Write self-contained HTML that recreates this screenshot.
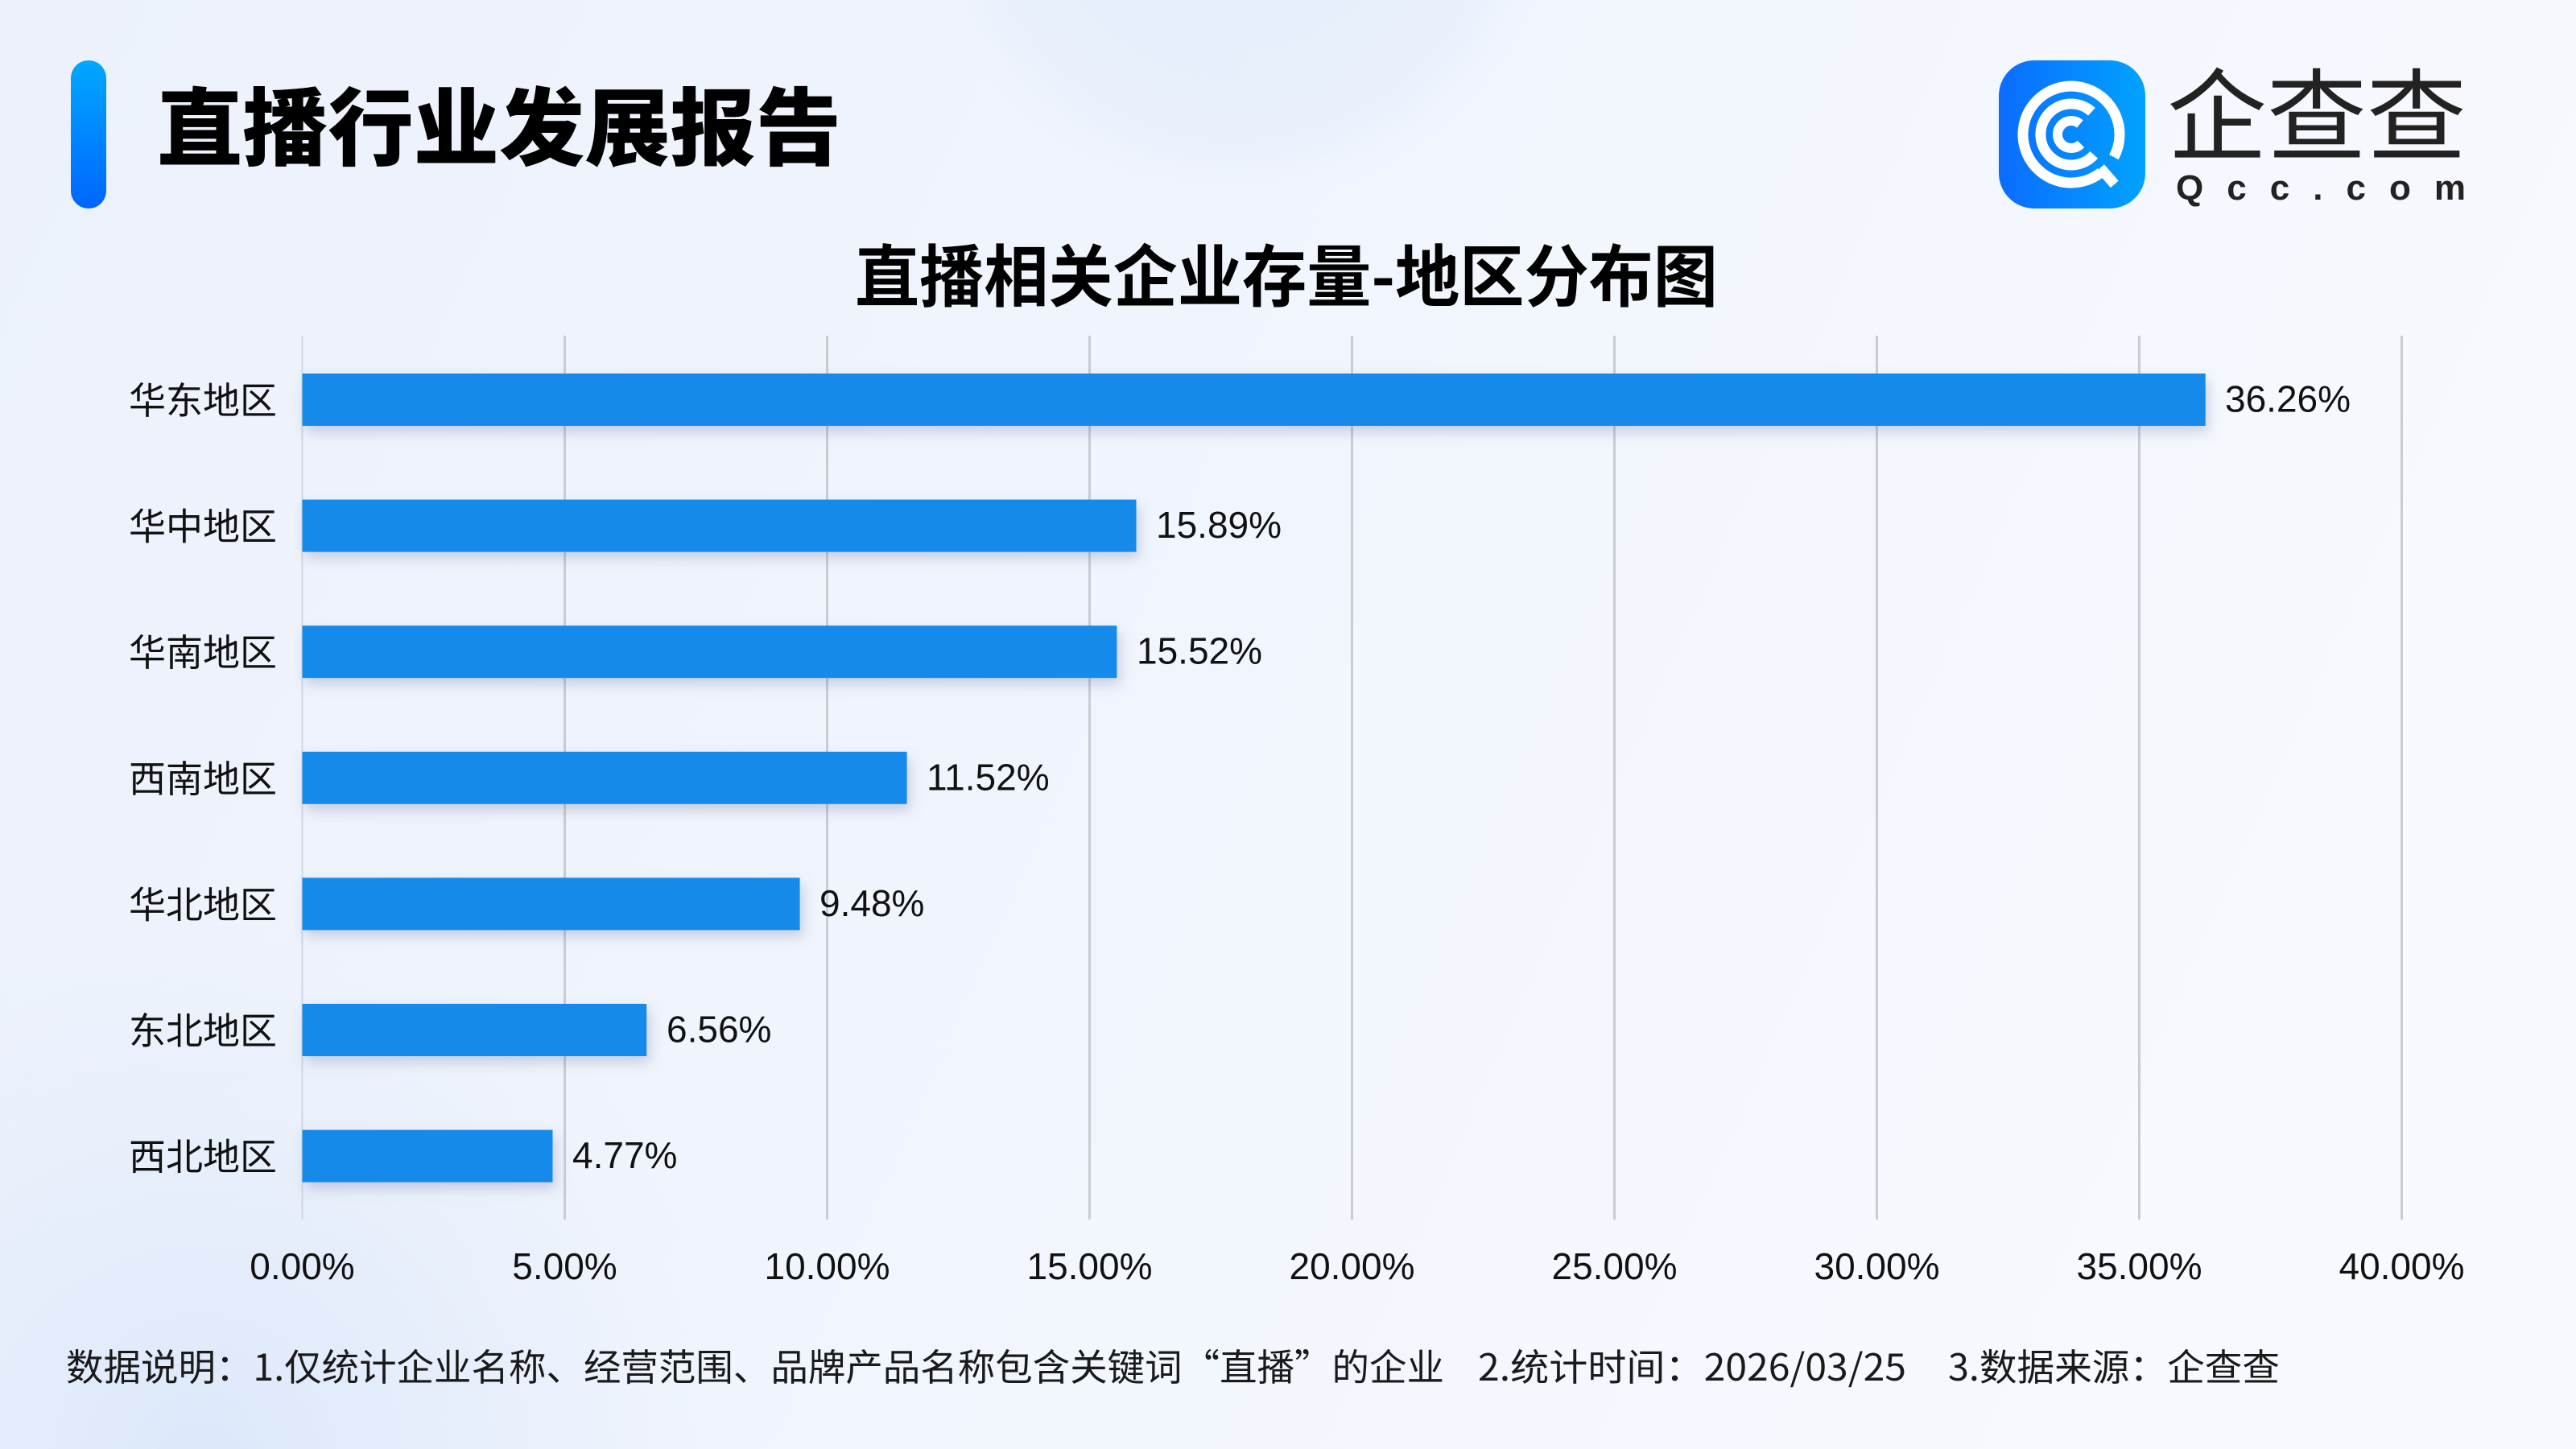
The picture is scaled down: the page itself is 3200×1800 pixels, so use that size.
<!DOCTYPE html>
<html>
<head>
<meta charset="utf-8">
<style>
html,body{margin:0;padding:0;width:3200px;height:1800px;overflow:hidden;background:#eef3fc}
svg{display:block;overflow:hidden}
</style>
</head>
<body>
<svg width="3200" height="1800" viewBox="0 0 3200 1800" xmlns="http://www.w3.org/2000/svg">
  <defs>
    <linearGradient id="bg" x1="0" y1="0" x2="1" y2="0.25">
      <stop offset="0" stop-color="#ecf1fb"/>
      <stop offset="0.55" stop-color="#f1f5fd"/>
      <stop offset="1" stop-color="#f7f9fe"/>
    </linearGradient>
    <radialGradient id="topc" gradientUnits="userSpaceOnUse" cx="1540" cy="-150" r="400">
      <stop offset="0" stop-color="#e3edfc" stop-opacity="0.9"/>
      <stop offset="0.8" stop-color="#e6eefc" stop-opacity="0.7"/>
      <stop offset="1" stop-color="#e8f0fc" stop-opacity="0"/>
    </radialGradient>
    <radialGradient id="blc" gradientUnits="userSpaceOnUse" cx="250" cy="1820" r="700">
      <stop offset="0" stop-color="#d8e5fa" stop-opacity="0.85"/>
      <stop offset="1" stop-color="#e2ecfb" stop-opacity="0"/>
    </radialGradient>
    <linearGradient id="accent" x1="0" y1="0" x2="0" y2="1">
      <stop offset="0" stop-color="#00a8ff"/>
      <stop offset="1" stop-color="#0066ff"/>
    </linearGradient>
    <linearGradient id="logo" x1="0" y1="0" x2="1" y2="0">
      <stop offset="0" stop-color="#0b6cff"/>
      <stop offset="1" stop-color="#00a3ff"/>
    </linearGradient>
    <filter id="sh" x="-5%" y="-40%" width="110%" height="200%">
      <feDropShadow dx="4" dy="8" stdDeviation="8" flood-color="#56699a" flood-opacity="0.28"/>
    </filter>
  </defs>

  <!-- background -->
  <rect x="0" y="0" width="3200" height="1800" fill="url(#bg)"/>
  <rect x="0" y="0" width="3200" height="1800" fill="url(#topc)"/>
  <rect x="0" y="0" width="3200" height="1800" fill="url(#blc)"/>

  <!-- header -->
  <rect x="88" y="75" width="44" height="184" rx="22" ry="22" fill="url(#accent)"/>
  <text x="195" y="197" font-family="'Noto Sans CJK SC','WenQuanYi Zen Hei',sans-serif" font-weight="900" font-size="105" fill="#000" textLength="850" lengthAdjust="spacingAndGlyphs">直播行业发展报告</text>

  <!-- logo -->
  <rect x="2483" y="75" width="182" height="184" rx="44" ry="44" fill="url(#logo)"/>
  <g fill="none" stroke="#fff" stroke-width="13">
    <path d="M2610 214.3 A60 60 0 1 1 2626 195.2"/>
    <path d="M2609.1 208.5 L2626.8 228.9"/>
    <path d="M2601.2 192.4 A38 38 0 1 1 2598.4 138.8"/>
    <path d="M2585 179 A17 17 0 1 1 2583.9 154" stroke-width="12"/>
  </g>
  <text x="2692" y="189" font-family="'Noto Sans CJK SC',sans-serif" font-weight="400" font-size="124" fill="#222">企查查</text>
  <text x="2703" y="248" font-family="'Liberation Sans',sans-serif" font-weight="700" font-size="44" fill="#222" textLength="360" lengthAdjust="spacing">Qcc.com</text>

  <!-- chart title -->
  <text x="1062" y="374" font-family="'Noto Sans CJK SC',sans-serif" font-weight="700" font-size="84" fill="#000" textLength="1072" lengthAdjust="spacingAndGlyphs">直播相关企业存量-地区分布图</text>

  <!-- grid -->
  <g stroke-width="3">
    <line x1="375.5" y1="417" x2="375.5" y2="1515" stroke="#d3d7df" stroke-width="2"/>
    <line x1="701.5" y1="417" x2="701.5" y2="1515" stroke="#c9ccd3"/>
    <line x1="1027.5" y1="417" x2="1027.5" y2="1515" stroke="#c9ccd3"/>
    <line x1="1353.5" y1="417" x2="1353.5" y2="1515" stroke="#c9ccd3"/>
    <line x1="1679.5" y1="417" x2="1679.5" y2="1515" stroke="#c9ccd3"/>
    <line x1="2005.5" y1="417" x2="2005.5" y2="1515" stroke="#c9ccd3"/>
    <line x1="2331.5" y1="417" x2="2331.5" y2="1515" stroke="#c9ccd3"/>
    <line x1="2657.5" y1="417" x2="2657.5" y2="1515" stroke="#c9ccd3"/>
    <line x1="2983.5" y1="417" x2="2983.5" y2="1515" stroke="#c9ccd3"/>
  </g>

  <!-- bars -->
  <g fill="#158aea" filter="url(#sh)">
    <rect x="375.5" y="464" width="2364.2" height="65"/>
    <rect x="375.5" y="620.6" width="1036" height="65"/>
    <rect x="375.5" y="777.2" width="1011.9" height="65"/>
    <rect x="375.5" y="933.8" width="751.1" height="65"/>
    <rect x="375.5" y="1090.4" width="618.1" height="65"/>
    <rect x="375.5" y="1247" width="427.7" height="65"/>
    <rect x="375.5" y="1403.6" width="311" height="65"/>
  </g>

  <!-- category labels -->
  <g font-family="'Noto Sans CJK SC',sans-serif" font-size="46" fill="#111" text-anchor="end">
    <text x="344" y="514">华东地区</text>
    <text x="344" y="670.6">华中地区</text>
    <text x="344" y="827.2">华南地区</text>
    <text x="344" y="983.8">西南地区</text>
    <text x="344" y="1140.4">华北地区</text>
    <text x="344" y="1297">东北地区</text>
    <text x="344" y="1453.6">西北地区</text>
  </g>

  <!-- value labels -->
  <g font-family="'Liberation Sans',sans-serif" font-size="46" fill="#111">
    <text x="2764" y="511.5">36.26%</text>
    <text x="1436" y="668.1">15.89%</text>
    <text x="1412" y="824.7">15.52%</text>
    <text x="1151" y="981.3">11.52%</text>
    <text x="1018" y="1137.9">9.48%</text>
    <text x="828" y="1294.5">6.56%</text>
    <text x="711" y="1451.1">4.77%</text>
  </g>

  <!-- axis labels -->
  <g font-family="'Liberation Sans',sans-serif" font-size="46" fill="#111" text-anchor="middle">
    <text x="375.5" y="1589">0.00%</text>
    <text x="701.5" y="1589">5.00%</text>
    <text x="1027.5" y="1589">10.00%</text>
    <text x="1353.5" y="1589">15.00%</text>
    <text x="1679.5" y="1589">20.00%</text>
    <text x="2005.5" y="1589">25.00%</text>
    <text x="2331.5" y="1589">30.00%</text>
    <text x="2657.5" y="1589">35.00%</text>
    <text x="2983.5" y="1589">40.00%</text>
  </g>

  <!-- footnote -->
  <g font-family="'Noto Sans CJK SC',sans-serif" font-size="46" fill="#1a1a1a">
    <text x="82" y="1715" textLength="1712" lengthAdjust="spacingAndGlyphs">数据说明：1.仅统计企业名称、经营范围、品牌产品名称包含关键词“直播”的企业</text>
    <text x="1836" y="1715" textLength="532" lengthAdjust="spacingAndGlyphs">2.统计时间：2026/03/25</text>
    <text x="2420" y="1715" textLength="412" lengthAdjust="spacingAndGlyphs">3.数据来源：企查查</text>
  </g>
</svg>
</body>
</html>
